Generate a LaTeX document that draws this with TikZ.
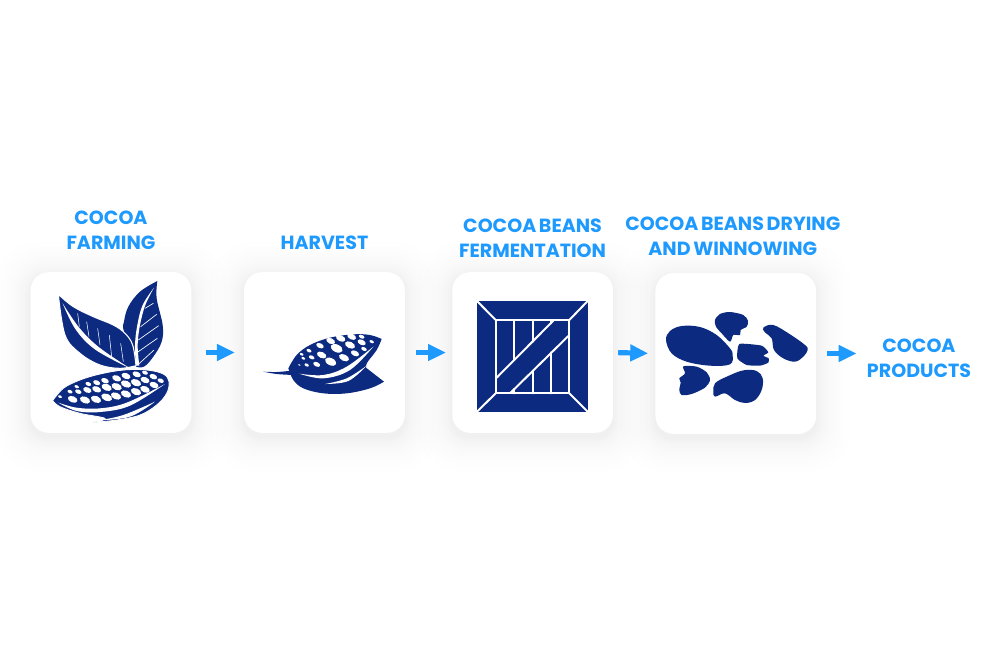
\documentclass[tikz,border=0pt]{standalone}
\usepackage{fontspec}
\setmainfont{Poppins}
\usetikzlibrary{positioning,arrows.meta,backgrounds}
\definecolor{navy}{HTML}{0B2A80}
\definecolor{skyblue}{HTML}{1E9AFF}
\newcommand{\labelfont}{\bfseries\fontsize{14.3pt}{18.75pt}\selectfont\spaceskip=.14em\relax}
\tikzset{
  card/.style={fill=white,rounded corners=13.5pt,minimum size=120.5pt,inner sep=0pt},
  steplabel/.style={text=skyblue,font=\labelfont,align=center,inner sep=0pt},
  flow/.style={skyblue,line width=3.9pt,-{Triangle[length=13.5pt,width=12pt]}},
  icon/.style={x=.25pt,y=-.25pt},
  bean/.style={fill=navy},
  cut/.style={fill=white},
  slat/.style={white,line width=1.5pt,line cap=round}
}
\newcommand{\cardshade}[1]{%
  \begin{scope}[on background layer]
    \foreach \r in {1,2,3,4,5,6,8,10,12,14,17,20,24,29,35}
      \fill[black,opacity=.0028,rounded corners=13.5pt+\r*.6pt]
        ([shift={(-\r*.75pt,-\r*.75pt-3pt)}]#1.south west) rectangle
        ([shift={(\r*.75pt,\r*.75pt-3pt)}]#1.north east);
  \end{scope}}
\begin{document}
\begin{tikzpicture}[x=.75pt,y=-.75pt]
  \useasboundingbox (0,0) rectangle (1000,644);

  \node[card] (farming) at (111,352.5) {};
  \node[card,right=39.2pt of farming] (harvest) {};
  \node[card,right=35.2pt of harvest] (ferment) {};
  \node[card,right=31.5pt of ferment,yshift=-.75pt] (drying) {};
  \cardshade{farming} \cardshade{harvest} \cardshade{ferment} \cardshade{drying}

  \node[steplabel,above=16.2pt of farming] (farmingtext) {COCOA\\FARMING};
  \node[steplabel,above=16.2pt of harvest] (harvesttext) {HARVEST};
  \node[steplabel,above=10.2pt of ferment] (fermenttext) {COCOA BEANS\\FERMENTATION};
  \node[steplabel,above=12.6pt of drying,xshift=-2.25pt] (dryingtext) {COCOA BEANS DRYING\\AND WINNOWING};
  \node[steplabel] (products) at (919,358) {COCOA\\PRODUCTS};

  \draw[flow,shorten <=10.5pt,shorten >=6.75pt] (farming.east) -- (harvest.west);
  \draw[flow,shorten <=8.25pt,shorten >=4.5pt] (harvest.east) -- (ferment.west);
  \draw[flow,shorten <=3.75pt,shorten >=5.25pt] (ferment.east) -- (drying.west);
  \draw[flow,shorten <=8.25pt,shorten >=7.5pt] (drying.east) -- (products.west |- drying.east);

  % leaves
  \begin{scope}[shift={(50,275)},icon]
    \fill[bean] plot[smooth,tension=.6] coordinates {(322,18) (270,50) (235,95) (222,140) (222,170) (258,275)}
      -- plot[smooth,tension=.6] coordinates {(258,275) (282,275) (310,245) (335,200) (338,150) (320,70) (322,18)} -- cycle;
    \fill[cut] plot[smooth,tension=.6] coordinates {(312,38) (278,90) (262,150) (255,210) (258,272)}
      -- plot[smooth,tension=.6] coordinates {(268,272) (263,210) (270,150) (286,90) (312,38)} -- cycle;
    \foreach \a/\b/\c/\d in {285/100/310/85,272/155/320/118,265/195/326/152,262/232/322/190,265/268/312/225}
      \draw[white,line width=.5pt] (\a,\b) -- (\c,\d);
    \filldraw[fill=navy,draw=white,line width=.8pt] plot[smooth,tension=.6] coordinates {(25,58) (70,95) (130,125) (190,150) (225,175) (248,210) (258,272)}
      -- plot[smooth,tension=.6] coordinates {(258,272) (210,280) (150,270) (90,235) (45,180) (25,58)} -- cycle;
    \fill[cut] plot[smooth,tension=.6] coordinates {(38,85) (76,162) (136,224) (240,280)}
      -- plot[smooth,tension=.6] coordinates {(240,280) (146,216) (86,156) (38,85)} -- cycle;
    \foreach \a/\b/\c/\d in {83/115/88/155,110/140/117/185,143/160/150/210,178/180/185/245,212/205/220/260}
      \draw[white,line width=.4pt] (\a,\b) -- (\c,\d);
  \end{scope}
  % pod
  \begin{scope}[shift={(50,360)},icon]
    \filldraw[fill=navy,draw=white,line width=.6pt] plot[smooth,tension=.6] coordinates {(8,122) (40,85) (90,60) (150,42) (220,30) (290,30) (340,42) (357,65) (350,100) (320,135) (270,165) (200,180) (130,187)}
      -- plot[smooth,tension=.6] coordinates {(130,187) (165,175) (90,160) (30,140) (8,122)} -- cycle;
    \fill[cut] plot[smooth,tension=.6] coordinates {(25,128) (80,143) (150,145) (230,128) (345,72)}
      -- plot[smooth,tension=.6] coordinates {(345,72) (240,137) (150,156) (80,153) (25,128)} -- cycle;
    \fill[cut] plot[smooth,tension=.6] coordinates {(145,181) (220,165) (315,125)}
      -- plot[smooth,tension=.6] coordinates {(315,125) (240,170) (145,181)} -- cycle;
    \draw[white,line width=.4pt] plot[smooth,tension=.6] coordinates {(90,55) (170,37) (240,28) (295,30)};
    \foreach \a/\b/\r in {30/110/6,68/118/15,105/120/16,138/118/16,170/112/17,198/108/16,228/102/16,258/95/16,285/88/15,312/75/14,332/62/10,
        60/95/8,85/95/10,112/90/13,140/88/14,170/82/16,200/80/16,228/72/16,258/68/16,285/60/14,310/50/12,
        80/80/7,115/72/9,140/68/11,165/62/12,200/55/14,228/48/14,260/43/13,285/38/9}
      \fill[cut,rotate around={-22:(\a,\b)}] (\a,\b) ellipse [x radius=\r,y radius=.62*\r];
  \end{scope}

  % pod on a leaf
  \begin{scope}[shift={(260,325)},icon]
    \fill[bean] plot[smooth,tension=.6] coordinates {(10,140) (50,141) (95,137)} -- (100,150)
      -- plot[smooth,tension=.6] coordinates {(100,150) (50,147) (10,140)} -- cycle;
    \fill[bean] plot[smooth,tension=.6] coordinates {(85,130) (110,90) (150,60) (210,38) (280,28) (330,30) (365,42)}
      -- plot[smooth,tension=.6] coordinates {(365,42) (350,75) (322,112) (318,128)} -- (372,170)
      -- plot[smooth,tension=.6] coordinates {(372,170) (330,190) (260,205) (190,205) (130,190) (100,165) (85,130)} -- cycle;
    \fill[cut] plot[smooth,tension=.6] coordinates {(118,146) (190,150) (260,125) (340,65)}
      -- plot[smooth,tension=.6] coordinates {(340,65) (270,135) (190,160) (118,146)} -- cycle;
    \fill[cut] plot[smooth,tension=.6] coordinates {(195,177) (260,160) (320,122)}
      -- plot[smooth,tension=.6] coordinates {(320,122) (265,168) (195,177)} -- cycle;
    \foreach \a/\b/\r in {125/88/6,147/77/8,180/62/12,212/48/14,242/40/15,275/35/14,305/35/9,
        130/100/6,155/97/9,185/90/15,230/70/19,270/60/16,305/52/13,335/50/7,
        118/120/4,140/120/7,170/118/11,212/110/18,252/98/16,285/85/13,312/72/9}
      \fill[cut,rotate around={-25:(\a,\b)}] (\a,\b) ellipse [x radius=\r,y radius=.6*\r];
  \end{scope}

  % crate
  \begin{scope}[shift={(450,280)},icon]
    \fill[bean] (81,63) rectangle (413,395);
    \draw[slat] (137,120) rectangle (358,340);
    \foreach \a/\b/\c/\d in {81/63/137/120,413/63/358/120,413/395/358/340,81/395/137/340,
        140/293/310/122,182/338/355/168,193/120/193/240,248/120/248/185,303/120/303/130,
        193/327/193/340,248/272/248/340,303/217/303/340}
      \draw[slat] (\a,\b) -- (\c,\d);
  \end{scope}

  % dried pieces
  \begin{scope}[shift={(650,295)},icon]
    \fill[bean] plot[smooth cycle,tension=.6] coordinates {(48,135) (60,108) (95,93) (150,96) (200,120) (240,160) (248,180) (240,208) (180,212) (110,200) (65,175)};
    \fill[bean] plot[smooth cycle,tension=.5] coordinates {(195,75) (210,57) (240,51) (280,60) (294,78) (290,95) (272,105) (270,120) (250,120) (240,140) (215,115) (198,95)};
    \fill[bean] plot[smooth cycle,tension=.6] coordinates {(340,98) (370,90) (420,118) (465,150) (473,165) (460,185) (435,200) (400,190) (372,165) (365,130) (345,112)};
    \fill[bean] plot[smooth cycle,tension=.3] coordinates {(268,147) (335,152) (355,172) (340,182) (356,190) (355,203) (330,212) (290,210) (262,190)};
    \fill[bean] plot[smooth cycle,tension=.5] coordinates {(100,214) (140,215) (170,232) (180,255) (165,278) (125,297) (95,300) (88,285) (92,262) (88,250) (105,235)};
    \fill[bean] plot[smooth cycle,tension=.6] coordinates {(190,290) (195,265) (230,245) (280,226) (320,228) (338,250) (335,285) (315,315) (285,324) (255,315) (225,295) (195,305)};
  \end{scope}
\end{tikzpicture}
\end{document}
